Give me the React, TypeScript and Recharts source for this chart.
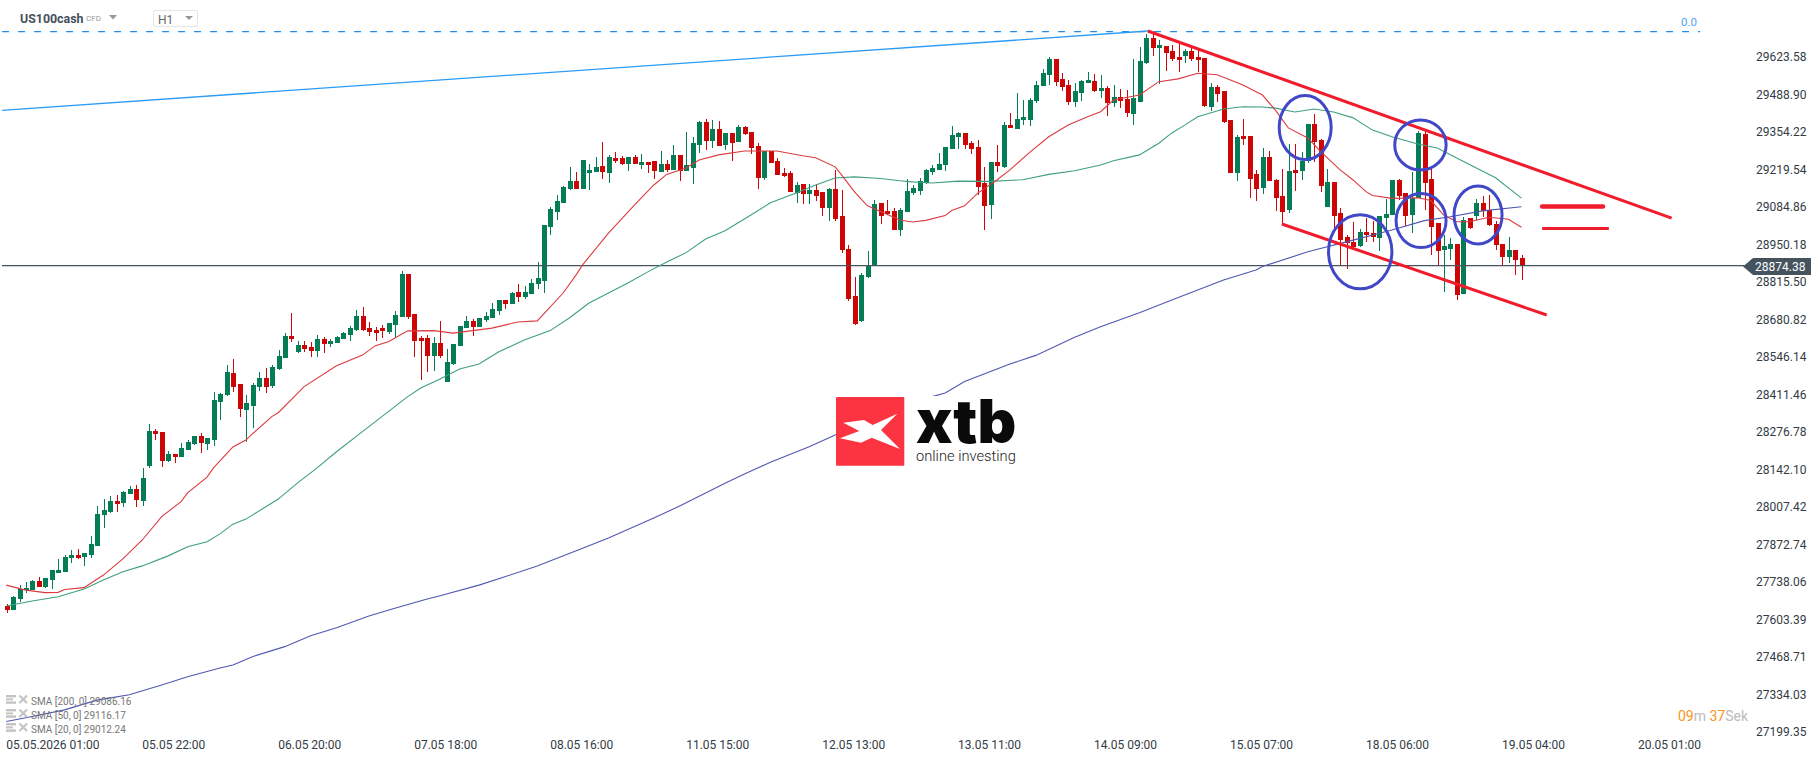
import React from "react";
import { ComposedChart, Bar, Line, XAxis, YAxis, ReferenceLine, ReferenceDot } from "recharts";

const opens = [
  27651,27639,27678,27709,27709,27742,27720,27746,27772,27775,
  27825,27835,27829,27836,27868,27980,27991,28029,28023,28055,
  28072,28030,28156,28280,28277,28174,28198,28188,28213,28235,
  28262,28234,28249,28386,28410,28488,28449,28356,28371,28440,
  28471,28442,28503,28543,28622,28564,28589,28582,28568,28611,
  28593,28596,28611,28625,28643,28693,28650,28643,28650,28636,
  28661,28690,28844,28701,28614,28614,28550,28597,28456,28521,
  28586,28650,28675,28654,28679,28686,28711,28751,28737,28780,
  28762,28772,28808,28819,29013,29067,29099,29150,29178,29150,
  29207,29211,29232,29207,29261,29261,29239,29264,29236,29246,
  29250,29211,29239,29218,29272,29214,29225,29308,29390,29322,
  29365,29308,29351,29318,29372,29354,29304,29189,29286,29250,
  29207,29207,29135,29168,29132,29146,29139,29081,29150,29053,
  28934,28765,28675,28833,28873,29099,29071,29071,29002,29067,
  29135,29142,29171,29211,29218,29236,29293,29336,29351,29315,
  29300,29171,29092,29246,29229,29379,29365,29397,29397,29466,
  29519,29559,29616,29545,29523,29462,29494,29530,29537,29501,
  29512,29458,29480,29473,29419,29462,29602,29692,29656,29663,
  29645,29624,29627,29645,29624,29620,29444,29516,29501,29397,
  29207,29340,29340,29203,29153,29264,29182,29124,29074,29218,
  29214,29250,29383,29326,29085,29175,29063,28977,28959,28945,
  28995,28991,28974,29045,29056,29182,29135,29056,29117,29347,
  29185,29027,28931,28934,28952,28772,29045,29053,29099,29074,
  29024,28952,28905,28931,28902,
];
const closes = [
  27639,27684,27712,27716,27742,27721,27752,27781,27781,27828,
  27835,27825,27842,27875,27982,27997,28029,28019,28061,28072,
  28034,28112,28280,28271,28174,28198,28188,28219,28241,28262,
  28238,28255,28392,28413,28492,28440,28359,28381,28446,28471,
  28440,28510,28550,28622,28611,28589,28575,28568,28611,28593,
  28604,28618,28632,28650,28693,28643,28636,28632,28640,28668,
  28697,28844,28690,28604,28604,28550,28597,28550,28528,28593,
  28658,28675,28654,28686,28693,28719,28751,28737,28776,28762,
  28780,28812,28830,29020,29078,29106,29157,29178,29150,29254,
  29218,29229,29211,29264,29250,29239,29264,29239,29246,29236,
  29214,29239,29218,29272,29214,29236,29315,29390,29322,29365,
  29304,29351,29315,29372,29347,29297,29189,29286,29243,29200,
  29196,29139,29164,29132,29146,29124,29081,29150,29042,28931,
  28754,28665,28841,28877,29096,29053,29060,29002,29074,29142,
  29153,29178,29218,29225,29239,29300,29343,29351,29308,29293,
  29157,29089,29246,29232,29379,29369,29401,29408,29469,29523,
  29566,29616,29534,29516,29462,29501,29537,29541,29501,29512,
  29458,29480,29466,29422,29476,29609,29692,29656,29667,29638,
  29616,29613,29645,29616,29613,29448,29516,29491,29390,29207,
  29336,29329,29185,29150,29264,29178,29117,29067,29214,29207,
  29250,29383,29318,29160,29175,29053,28966,28956,28941,28995,
  28984,28977,29053,29060,29182,29124,29053,29117,29351,29171,
  29013,28927,28945,28952,28769,29038,29009,29099,29071,29020,
  28948,28905,28931,28895,28874,
];
const highs = [
  27659,27688,27727,27738,27745,27756,27752,27781,27822,27835,
  27853,27857,27842,27903,28011,28035,28047,28051,28065,28083,
  28087,28148,28306,28288,28277,28209,28198,28237,28248,28262,
  28273,28255,28422,28418,28517,28539,28449,28410,28452,28491,
  28506,28517,28571,28633,28705,28604,28604,28600,28625,28618,
  28611,28622,28637,28658,28715,28726,28673,28655,28661,28668,
  28711,28855,28844,28701,28622,28625,28618,28675,28575,28593,
  28658,28693,28683,28686,28708,28739,28751,28751,28780,28808,
  28801,28826,28887,29020,29085,29128,29160,29229,29211,29254,
  29239,29264,29318,29272,29282,29268,29264,29272,29275,29246,
  29250,29286,29254,29308,29272,29354,29336,29394,29401,29397,
  29394,29351,29351,29379,29376,29354,29315,29286,29286,29261,
  29225,29214,29175,29168,29168,29168,29139,29153,29218,29146,
  28948,28833,28848,28927,29110,29099,29110,29081,29081,29185,
  29164,29189,29221,29236,29279,29300,29376,29354,29351,29322,
  29326,29229,29246,29308,29390,29422,29494,29469,29476,29537,
  29580,29624,29616,29566,29541,29530,29541,29570,29562,29559,
  29519,29523,29509,29505,29616,29659,29706,29713,29685,29663,
  29667,29670,29652,29656,29649,29620,29530,29523,29501,29397,
  29343,29401,29340,29218,29297,29286,29185,29221,29311,29311,
  29282,29383,29419,29329,29221,29175,29081,28984,29031,29006,
  29045,29035,29053,29114,29182,29185,29135,29211,29358,29358,
  29221,29027,28984,28974,28952,29049,29045,29114,29124,29128,
  29035,28952,28977,28931,28913,
];
const lows = [
  27628,27638,27665,27700,27708,27720,27717,27714,27772,27774,
  27807,27822,27797,27825,27868,27933,27987,27991,28009,28055,
  28009,28012,28149,28249,28152,28170,28167,28188,28213,28231,
  28203,28212,28228,28320,28407,28422,28332,28242,28292,28425,
  28418,28436,28501,28543,28601,28559,28564,28547,28547,28561,
  28583,28596,28611,28604,28640,28640,28623,28604,28614,28629,
  28618,28690,28683,28546,28464,28492,28496,28543,28456,28517,
  28586,28650,28622,28654,28672,28686,28697,28719,28737,28744,
  28754,28772,28790,28776,28984,29038,29099,29146,29150,29150,
  29146,29211,29185,29171,29243,29236,29214,29239,29221,29207,
  29185,29211,29211,29218,29178,29214,29167,29279,29290,29297,
  29304,29290,29250,29318,29343,29275,29150,29182,29243,29200,
  29193,29139,29099,29096,29096,29106,29053,29035,29035,28920,
  28747,28661,28672,28830,28873,29024,29056,29002,28981,29067,
  29128,29128,29167,29200,29218,29214,29293,29293,29293,29275,
  29128,29002,29042,29211,29225,29369,29365,29379,29376,29458,
  29519,29523,29519,29501,29451,29444,29466,29530,29498,29476,
  29412,29444,29440,29408,29379,29462,29598,29627,29527,29573,
  29609,29570,29602,29609,29570,29444,29430,29462,29387,29207,
  29178,29308,29117,29106,29132,29178,29071,29024,29063,29142,
  29182,29243,29246,29139,29085,29002,28873,28862,28934,28941,
  28959,28959,28927,29002,29056,29110,29017,28991,29117,29074,
  28912,28877,28780,28895,28751,28772,29006,29038,29049,29017,
  28931,28873,28884,28841,28823,
];

// moving averages, read as [bar, value] at the visible bends
const sma20 = [
  [0,27727],[3,27709],[6,27700],[8,27701],[9,27711],[12,27718],[15,27763],[18,27821],[21,27889],[24,27973],
  [27,28027],[28,28058],[31,28115],[32,28148],[35,28223],[37,28248],[38,28270],[41,28332],[42,28346],[46,28440],
  [51,28515],[55,28553],[57,28587],[59,28601],[62,28640],[66,28641],[69,28632],[72,28641],[75,28650],[79,28672],
  [82,28676],[86,28776],[88,28841],[89,28877],[93,28991],[97,29092],[100,29164],[102,29202],[105,29225],[107,29254],
  [110,29272],[114,29286],[119,29286],[123,29269],[125,29262],[128,29229],[129,29200],[131,29139],[133,29089],[138,29038],
  [140,29031],[142,29037],[145,29054],[146,29072],[148,29089],[150,29134],[153,29182],[155,29218],[158,29280],[161,29337],
  [164,29379],[167,29409],[169,29427],[171,29469],[175,29487],[178,29535],[181,29545],[184,29565],[187,29560],[191,29523],
  [194,29487],[196,29433],[198,29369],[201,29333],[203,29284],[206,29218],[208,29182],[210,29140],[211,29126],[214,29116],
  [218,29118],[220,29108],[222,29056],[224,29032],[226,29032],[229,29048],[232,29041],[234,29012],
];
const sma50 = [
  [0,27652],[4,27670],[8,27685],[12,27713],[15,27745],[18,27775],[21,27796],[25,27832],[28,27865],[31,27883],
  [33,27911],[35,27946],[37,27964],[42,28036],[45,28094],[48,28148],[51,28206],[55,28278],[58,28332],[62,28404],
  [64,28435],[67,28467],[70,28503],[73,28521],[76,28564],[80,28607],[84,28641],[87,28687],[90,28740],[93,28776],
  [96,28812],[99,28851],[102,28887],[105,28921],[108,28970],[111,29000],[115,29056],[118,29100],[122,29135],[125,29164],
  [128,29189],[131,29193],[135,29187],[138,29179],[140,29175],[143,29171],[147,29178],[152,29177],[157,29183],[161,29202],
  [165,29215],[169,29236],[171,29251],[175,29272],[178,29314],[180,29351],[182,29379],[184,29409],[188,29437],[191,29445],
  [194,29444],[196,29440],[199,29426],[202,29437],[205,29426],[208,29405],[211,29361],[214,29337],[218,29311],[221,29297],
  [224,29261],[230,29190],[234,29117],
];
const sma200 = [
  [0,27237],[4,27255],[9,27279],[14,27314],[19,27333],[24,27368],[28,27398],[33,27429],[35,27440],[38,27470],
  [43,27506],[47,27545],[51,27574],[56,27616],[60,27644],[65,27677],[67,27689],[73,27727],[77,27757],[82,27796],
  [89,27859],[93,27896],[100,27968],[104,28011],[111,28093],[114,28126],[118,28168],[124,28224],[128,28266],[143,28404],
  [145,28417],[148,28458],[155,28521],[159,28552],[165,28617],[169,28655],[175,28705],[180,28751],[188,28823],[193,28859],
  [194,28871],[201,28924],[208,28966],[214,29002],[219,29036],[223,29050],[228,29071],[234,29086],
];

const priceTicks = [
  29623.58,29488.90,29354.22,29219.54,29084.86,28950.18,28815.50,28680.82,28546.14,28411.46,
  28276.78,28142.10,28007.42,27872.74,27738.06,27603.39,27468.71,27334.03,27199.35,
];
const timeTicks = [0,21,42,63,84,105,126,147,168,189,210,231,252];
const timeLabels = [
  "05.05.2026 01:00","05.05 22:00","06.05 20:00","07.05 18:00","08.05 16:00","11.05 15:00","12.05 13:00",
  "13.05 11:00","14.05 09:00","15.05 07:00","18.05 06:00","19.05 04:00","20.05 01:00",
];
const legendRows = ["SMA [200, 0] 29086.16","SMA [50, 0] 29116.17","SMA [20, 0] 29012.24"];
const lastPrice = 28874.38;

// drawn annotations, as [bar, price] ends
const fibLevel = [[-0.66,29715],[261.6,29715]];
const blueTrend = [[-0.66,29432],[176.3,29717]];
const upperChannel = [[176.3,29717],[257.2,29045]];
const lowerChannel = [[197,29024],[237.9,28697]];
const markerTop = [[237.2,29087],[246.6,29087]];
const markerBottom = [[237.2,29008],[247.5,29008]];
const lastPriceLine = [[-0.66,lastPrice],[268.5,lastPrice]];
const circleBars = [200.6,218.4,209.1,218.5,227.3];
const circlePrices = [29370,29308,28924,29036,29056];
const circleSizes = [[26,32],[25.7,25],[31.7,37],[25,27],[24,29]];

const rows = opens.map((open, i) => {
  const p20 = sma20.find((p) => p[0] === i);
  const p50 = sma50.find((p) => p[0] === i);
  const p200 = sma200.find((p) => p[0] === i);
  return {
    bar: i,
    open,
    close: closes[i],
    high: highs[i],
    low: lows[i],
    range: [lows[i], highs[i]],
    sma20: p20 ? p20[1] : undefined,
    sma50: p50 ? p50[1] : undefined,
    sma200: p200 ? p200[1] : undefined,
  };
});

const GREEN = "#047c55";
const RED = "#cc0606";
const FONT = "Roboto, sans-serif";

function Candle(props: any) {
  const { x, y, width, height, payload } = props;
  const { open, close, high, low } = payload;
  const cx = Math.round(x + width / 2);
  const perPrice = height / (high - low || 1);
  const top = y + (high - Math.max(open, close)) * perPrice;
  const bottom = y + (high - Math.min(open, close)) * perPrice;
  const color = close >= open ? GREEN : RED;
  return (
    <g shapeRendering="crispEdges">
      <rect x={cx - 0.5} y={y} width={1} height={height} fill={color} />
      <rect x={cx - 2.5} y={top} width={5} height={Math.max(bottom - top, 1)} fill={color} />
    </g>
  );
}

function TimeTick(props: any) {
  const { x, y, index } = props;
  return (
    <text x={x} y={y + 6} fill="#333b44" fontSize={12} fontFamily={FONT} textAnchor="start">
      {timeLabels[index]}
    </text>
  );
}

const seg = (pts: number[][]) => pts.map((p) => ({ x: p[0], y: p[1] })) as any;

function Absolute({ x, y, style, children }: any) {
  return (
    <div style={{ position: "absolute", left: x, top: y, lineHeight: 1, whiteSpace: "nowrap", fontFamily: FONT, ...style }}>
      {children}
    </div>
  );
}

export default function App() {
  return (
    <div style={{ position: "absolute", left: 0, top: 0, width: 1816, height: 761, background: "#fff", overflow: "hidden" }}>
      <ComposedChart width={1816} height={761} data={rows} margin={{ top: 0, right: 0, bottom: 0, left: 0 }}>
        <XAxis
          dataKey="bar"
          type="number"
          domain={[-0.973, 269.3]}
          allowDataOverflow
          ticks={timeTicks}
          interval={0}
          height={26}
          axisLine={false}
          tickLine={false}
          tick={<TimeTick />}
        />
        <YAxis
          orientation="right"
          type="number"
          domain={[27188.7, 29828.3]}
          allowDataOverflow
          ticks={priceTicks}
          interval={0}
          width={66}
          axisLine={false}
          tickLine={false}
          tickSize={0}
          tickMargin={6}
          tickFormatter={(v: number) => v.toFixed(2)}
          tick={{ fill: "#333b44", fontSize: 12, fontFamily: FONT }}
        />
        <ReferenceLine segment={seg(lastPriceLine)} stroke="#44555f" strokeWidth={1.1} />
        <ReferenceLine segment={seg(fibLevel)} stroke="#1e90f0" strokeWidth={1.2} strokeDasharray="7 9" />
        <ReferenceLine segment={seg(blueTrend)} stroke="#2c9bf6" strokeWidth={1.3} />
        <Line dataKey="sma200" stroke="#5058b0" strokeWidth={1.1} dot={false} activeDot={false} connectNulls isAnimationActive={false} />
        <Line dataKey="sma50" stroke="#3f9f80" strokeWidth={1.1} dot={false} activeDot={false} connectNulls isAnimationActive={false} />
        <Line dataKey="sma20" stroke="#dc3a3e" strokeWidth={1.1} dot={false} activeDot={false} connectNulls isAnimationActive={false} />
        <Bar dataKey="range" barSize={5} shape={<Candle />} isAnimationActive={false} />
        <ReferenceLine segment={seg(upperChannel)} stroke="#f01c2c" strokeWidth={3} />
        <ReferenceLine segment={seg(lowerChannel)} stroke="#f01c2c" strokeWidth={3} />
        <ReferenceLine segment={seg(markerTop)} stroke="#f01c2c" strokeWidth={4.5} strokeLinecap="round" />
        <ReferenceLine segment={seg(markerBottom)} stroke="#f01c2c" strokeWidth={3} />
        {circleBars.map((bar, i) => (
          <ReferenceDot
            key={bar}
            x={bar}
            y={circlePrices[i]}
            r={1}
            shape={(p: any) => (
              <ellipse cx={p.cx} cy={p.cy} rx={circleSizes[i][0]} ry={circleSizes[i][1]} fill="none" stroke="#4048c8" strokeWidth={3} />
            )}
          />
        ))}
      </ComposedChart>

      {/* header */}
      <Absolute x={20} y={13} style={{ fontSize: 12.4, fontWeight: 700, color: "#44505c" }}>US100cash</Absolute>
      <Absolute x={86} y={15} style={{ fontSize: 8, color: "#999" }}>CFD</Absolute>
      <div style={{ position: "absolute", left: 153, top: 10, width: 43, height: 15, border: "1px solid #e6e6e6", borderRadius: 2 }} />
      <Absolute x={158} y={14} style={{ fontSize: 12, color: "#666" }}>H1</Absolute>
      <Absolute x={1681} y={17} style={{ fontSize: 11.5, color: "#4ea5f5" }}>0.0</Absolute>

      {/* indicator list */}
      {legendRows.map((row, i) => (
        <React.Fragment key={row}>
          <Absolute x={31} y={697 + i * 14} style={{ fontSize: 10, color: "#777" }}>{row}</Absolute>
        </React.Fragment>
      ))}

      <Absolute x={1678} y={709} style={{ fontSize: 14, color: "#bbb" }}>
        <span style={{ color: "#f7941d" }}>09</span>m <span style={{ color: "#f7941d" }}>37</span>Sek
      </Absolute>

      <svg width={1816} height={761} style={{ position: "absolute", left: 0, top: 0, pointerEvents: "none" }}>
        <polygon points="109,15 117,15 113,19.5" fill="#999" />
        <polygon points="185,16 193,16 189,20" fill="#999" />
        {legendRows.map((row, i) => (
          <g key={row} transform={`translate(6 ${695 + i * 14})`} fill="#c4c4c4">
            <rect x={0} y={0} width={10} height={2.4} />
            <rect x={0} y={3.4} width={7} height={2} />
            <rect x={0} y={6.4} width={10} height={2.4} />
            <path d="M13.5 0.5 L21 8 M21 0.5 L13.5 8" stroke="#c4c4c4" strokeWidth={2.2} />
          </g>
        ))}
        <polygon points="1743,266.5 1753,258 1811,258 1811,275 1753,275" fill="#44535e" />
        <rect x={836} y={396} width={184} height={72} fill="#fff" />
        <rect x={836} y={397} width={68.3} height={68.7} rx={1} fill="#fc3441" />
        <polygon
          points="843.3,422.7 864,420 872.7,425 897.3,413.7 881,430 900,449 871.7,437.7 861,442.7 840,438.3 859.3,431"
          fill="#fff"
        />
      </svg>
      <Absolute x={1755} y={261} style={{ fontSize: 12, color: "#fff" }}>28874.38</Absolute>
      <Absolute x={916} y={394} style={{ fontFamily: "Inter, sans-serif", fontSize: 60, fontWeight: 900, color: "#0a0a0a", lineHeight: 0.9 }}>xtb</Absolute>
      <Absolute x={916} y={449} style={{ fontSize: 14.7, fontWeight: 300, color: "#222" }}>online investing</Absolute>
    </div>
  );
}
